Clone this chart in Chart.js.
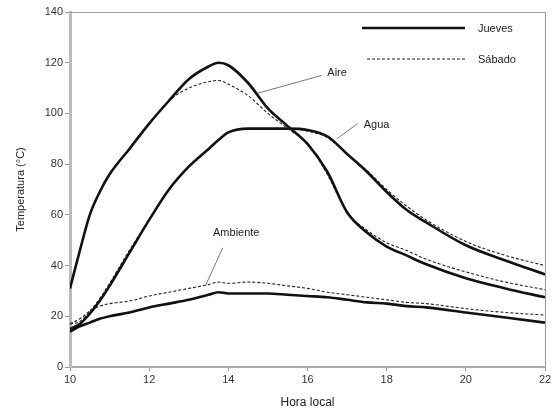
<!DOCTYPE html>
<html>
<head>
<meta charset="utf-8">
<script src="https://cdn.jsdelivr.net/npm/chart.js@4"></script>
<style>
  html, body { margin: 0; padding: 0; background: #fff; }
  #wrap { width: 555px; height: 410px; }
</style>
</head>
<body>
<div id="wrap"><canvas id="grafico"></canvas></div>
<script>
// --- Datos ---
const horas = [10, 10.25, 10.5, 10.75, 11, 11.5, 12, 12.5, 13, 13.5, 13.75, 14, 14.5, 15, 15.5, 16, 16.5, 17, 17.5, 18, 18.5, 19, 20, 21, 22];

const aireJueves     = [31, 46, 60, 69, 76, 86, 96, 105, 113.5, 118.5, 120, 119, 112, 102, 95, 88, 77, 61, 53, 47.5, 44, 40.5, 35, 31, 27.5];
const aireSabado     = [31, 46, 60, 69, 76, 86, 96, 105, 110, 112.5, 113, 111.5, 107, 100, 94, 88, 76, 61, 54, 49, 46, 42.5, 37.5, 33.5, 30.5];
const aguaJueves     = [15, 17, 21, 26, 32, 45, 58, 70, 79, 86, 89.5, 92.5, 94, 94, 94, 93.5, 91, 84, 77, 69, 62, 57, 48, 42, 36.5];
const aguaSabado     = [17, 18, 22, 27, 33, 46, 58, 70, 79, 86, 89.5, 92.5, 94, 94, 94, 93, 90.5, 84, 77.5, 70, 63.5, 58, 49.5, 44, 40];
const ambienteJueves = [14, 16, 17.5, 19, 20, 21.5, 23.5, 25, 26.5, 28.5, 29.5, 29, 29, 29, 28.5, 28, 27.5, 26.5, 25.5, 25, 24, 23.5, 21.5, 19.5, 17.5];
const ambienteSabado = [17, 19, 22, 24, 25, 26, 28, 29.5, 31, 32.5, 33.5, 33, 33.5, 33, 32, 31, 29.5, 28.5, 27.5, 26.5, 25.5, 25, 23, 21.5, 20.5];

const dias = ["Jueves", "Sábado"];
const xTicks = [10, 12, 14, 16, 18, 20, 22];
const yTicks = [0, 20, 40, 60, 80, 100, 120, 140];

// --- Estilos ---
const fuente = "'Liberation Sans', Arial, sans-serif";
const estiloJueves = { borderColor: "#111", borderWidth: 2.6, borderDash: [] };
const estiloSabado = { borderColor: "#222", borderWidth: 1.1, borderDash: [3, 2] };

function serie(nombre, valores, estilo) {
  return {
    label: nombre,
    data: horas.map((h, i) => ({ x: h, y: valores[i] })),
    borderColor: estilo.borderColor,
    borderWidth: estilo.borderWidth,
    borderDash: estilo.borderDash,
    pointRadius: 0,
    fill: false,
    cubicInterpolationMode: "monotone"
  };
}

// Etiquetas con linea guia (en unidades de datos)
const notas = [
  { texto: "Aire", desde: [14.75, 108], hasta: [16.36, 115], pos: [16.5, 116], align: "left" },
  { texto: "Agua", desde: [16.74, 90], hasta: [17.27, 96], pos: [17.42, 95.5], align: "left" },
  { texto: "Ambiente", desde: [13.42, 32], hasta: [13.86, 47], pos: [14.2, 53], align: "center" }
];

const anotaciones = {
  id: "anotaciones",
  afterDraw(chart) {
    const { ctx, chartArea, scales } = chart;
    const xs = scales.x, ys = scales.y;
    ctx.save();

    // marco superior y derecho
    ctx.strokeStyle = "#999";
    ctx.lineWidth = 1;
    ctx.beginPath();
    ctx.moveTo(chartArea.left, chartArea.top + 0.5);
    ctx.lineTo(chartArea.right + 0.5, chartArea.top + 0.5);
    ctx.lineTo(chartArea.right + 0.5, chartArea.bottom);
    ctx.stroke();

    // notas
    ctx.font = "11px " + fuente;
    ctx.fillStyle = "#222";
    ctx.textBaseline = "middle";
    notas.forEach(n => {
      ctx.strokeStyle = "#555";
      ctx.lineWidth = 0.8;
      ctx.setLineDash([]);
      ctx.beginPath();
      ctx.moveTo(xs.getPixelForValue(n.desde[0]), ys.getPixelForValue(n.desde[1]));
      ctx.lineTo(xs.getPixelForValue(n.hasta[0]), ys.getPixelForValue(n.hasta[1]));
      ctx.stroke();
      ctx.textAlign = n.align;
      ctx.fillText(n.texto, xs.getPixelForValue(n.pos[0]), ys.getPixelForValue(n.pos[1]));
    });

    // leyenda
    const estilos = [estiloJueves, estiloSabado];
    const xTexto = chartArea.right - 67;
    dias.forEach((d, i) => {
      const y = chartArea.top + 16 + i * 31;
      const e = estilos[i];
      ctx.strokeStyle = e.borderColor;
      ctx.lineWidth = e.borderWidth;
      ctx.setLineDash(e.borderDash);
      ctx.beginPath();
      ctx.moveTo(chartArea.right - (i === 0 ? 183 : 178), y);
      ctx.lineTo(chartArea.right - 80, y);
      ctx.stroke();
      ctx.textAlign = "left";
      ctx.fillText(d, xTexto, y + 1);
    });
    ctx.restore();
  }
};

const ctx = document.getElementById("grafico").getContext("2d");
new Chart(ctx, {
  type: "line",
  data: {
    datasets: [
      serie("Aire " + dias[0], aireJueves, estiloJueves),
      serie("Aire " + dias[1], aireSabado, estiloSabado),
      serie("Agua " + dias[0], aguaJueves, estiloJueves),
      serie("Agua " + dias[1], aguaSabado, estiloSabado),
      serie("Ambiente " + dias[0], ambienteJueves, estiloJueves),
      serie("Ambiente " + dias[1], ambienteSabado, estiloSabado)
    ]
  },
  options: {
    responsive: true,
    maintainAspectRatio: false,
    animation: false,
    layout: { padding: { top: 12, right: 10, left: 0, bottom: 0 } },
    plugins: {
      legend: { display: false },
      tooltip: { enabled: false }
    },
    scales: {
      x: {
        type: "linear",
        min: 10,
        max: 22,
        afterBuildTicks: s => { s.ticks = xTicks.map(v => ({ value: v })); },
        afterFit: s => { s.height = 43; },
        ticks: { color: "#333", font: { family: fuente, size: 11 }, padding: 2, maxRotation: 0 },
        grid: { drawOnChartArea: false, drawTicks: true, tickLength: 4, color: "#999" },
        border: { color: "#aaa", width: 2 },
        title: { display: true, text: "Hora local", color: "#222", font: { family: fuente, size: 12 }, padding: { top: 2, bottom: 0 } }
      },
      y: {
        min: 0,
        max: 140,
        afterBuildTicks: s => { s.ticks = yTicks.map(v => ({ value: v })); },
        afterFit: s => { s.width = 70; },
        ticks: { color: "#333", font: { family: fuente, size: 11 }, padding: 2 },
        grid: { drawOnChartArea: false, drawTicks: true, tickLength: 5, color: "#999" },
        border: { color: "#bbb", width: 3 },
        title: { display: true, text: "Temperatura (°C)", color: "#222", font: { family: fuente, size: 11 }, padding: { top: 14, bottom: 0 } }
      }
    }
  },
  plugins: [anotaciones]
});
</script>
</body>
</html>
